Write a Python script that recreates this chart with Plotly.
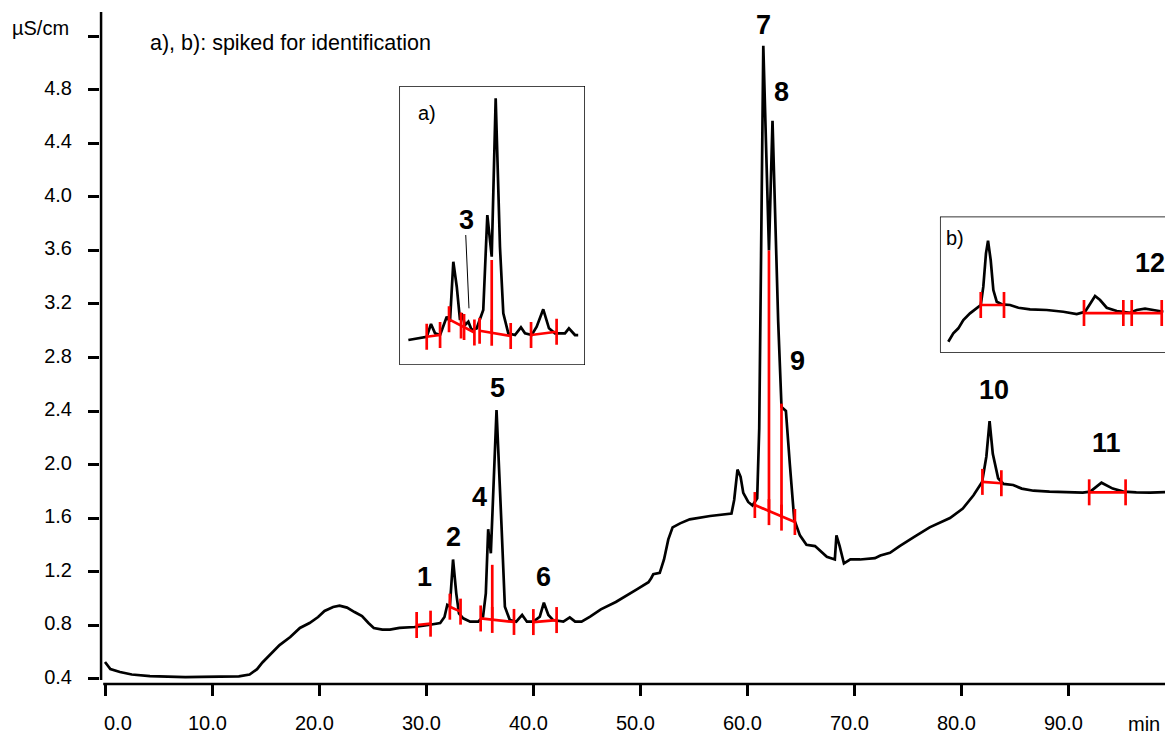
import plotly.graph_objects as go

# ---------------- main chromatogram (time in min, conductivity in µS/cm) ----------------
main_time = [0.0, 0.5, 1.4, 2.5, 4.2, 6.0, 7.5, 9.0, 11.0, 12.5, 13.5, 14.2, 14.7, 15.4, 16.3,
             17.3, 18.2, 19.1, 19.9, 20.5, 21.3, 21.9, 22.6, 23.3, 24.0, 24.6, 25.1, 25.9, 26.6,
             27.5, 28.9, 30.2, 31.3, 31.7, 31.96, 32.2, 32.5, 32.8, 33.05, 33.45, 34.1, 34.85,
             35.3, 35.56, 35.78, 36.03, 36.56, 37.03, 37.34, 37.8, 38.4, 38.95, 39.4, 40.0, 40.6,
             40.98, 41.4, 41.85, 42.8, 43.4, 43.9, 44.5, 45.3, 46.3, 47.7, 49.7, 50.75, 51.0, 51.2,
             51.8, 52.2, 52.6, 53.0, 53.7, 54.6, 56.5, 58.5, 58.75, 59.06, 59.35, 59.6, 60.06,
             60.46, 60.9, 61.09, 61.47, 62.0, 62.33, 62.86, 63.17, 63.58, 63.95, 64.36, 64.89,
             65.5, 66.3, 67.4, 68.15, 68.3, 68.6, 69.0, 69.6, 70.5, 71.9, 72.4, 73.3, 74.2, 75.6,
             77.0, 78.9, 80.1, 81.1, 81.9, 82.3, 82.6, 82.9, 83.4, 83.9, 84.8, 85.6, 86.7, 88.2,
             89.8, 91.3, 92.0, 93.05, 94.1, 95.1, 96.3, 97.6, 99.0]
main_signal = [0.523, 0.47, 0.449, 0.43, 0.418, 0.412, 0.41, 0.412, 0.414, 0.416, 0.43, 0.47, 0.52,
               0.576, 0.65, 0.71, 0.778, 0.815, 0.86, 0.905, 0.935, 0.945, 0.93, 0.897, 0.867,
               0.815, 0.778, 0.765, 0.765, 0.778, 0.785, 0.80, 0.815, 0.86, 0.95, 0.937, 1.29,
               1.037, 0.887, 0.85, 0.825, 0.825, 0.862, 1.037, 1.516, 1.336, 2.407, 1.535, 0.937,
               0.837, 0.825, 0.875, 0.825, 0.825, 0.862, 0.967, 0.875, 0.837, 0.825, 0.857, 0.825,
               0.825, 0.862, 0.917, 0.972, 1.068, 1.12, 1.15, 1.18, 1.19, 1.29, 1.44, 1.53, 1.56,
               1.59, 1.615, 1.633, 1.735, 1.962, 1.908, 1.788, 1.72, 1.694, 1.748, 2.27, 5.13, 3.60,
               4.57, 3.07, 2.43, 2.40, 2.0, 1.588, 1.47, 1.40, 1.39, 1.31, 1.29, 1.47, 1.39, 1.26,
               1.29, 1.29, 1.30, 1.32, 1.34, 1.39, 1.46, 1.53, 1.60, 1.67, 1.77, 1.87, 2.06, 2.325,
               2.08, 1.897, 1.855, 1.847, 1.82, 1.804, 1.797, 1.792, 1.79, 1.797, 1.864, 1.82,
               1.797, 1.792, 1.79, 1.794]

# integration marks of the main trace
main_baselines = [  # (t_start, v_start, t_end, v_end)
    (29.1, 0.80, 30.4, 0.81),
    (32.2, 0.937, 33.2, 0.90),
    (35.08, 0.849, 38.19, 0.823),
    (40.0, 0.822, 42.17, 0.837),
    (60.68, 1.697, 64.42, 1.57),
    (81.93, 1.87, 83.7, 1.86),
    (91.9, 1.792, 95.3, 1.792),
]
main_ticks = [(29.1, 0.80), (30.4, 0.81), (32.2, 0.937), (33.2, 0.90), (35.08, 0.849),
              (36.16, 0.838), (38.19, 0.823), (40.0, 0.822), (42.17, 0.837), (60.68, 1.697),
              (62.0, 1.644), (63.17, 1.603), (64.42, 1.57), (81.93, 1.87), (83.7, 1.86),
              (91.9, 1.792), (95.3, 1.792)]
main_drops = [(36.16, 0.838, 1.25), (62.0, 1.644, 3.60), (63.17, 1.603, 2.455)]  # (t, base, top)

peak_labels = ["1", "2", "4", "5", "6", "7", "8", "9", "10", "11"]
peak_label_t = [29.88, 32.58, 34.94, 36.63, 40.92, 61.46, 63.18, 64.63, 83.03, 93.52]
peak_label_v = [1.161, 1.46, 1.759, 2.57, 1.161, 5.286, 4.785, 2.776, 2.557, 2.158]

# ---------------- inset a) ----------------
inset_a_time = [28.19, 29.15, 29.95, 30.36, 30.75, 31.23, 31.87, 32.18, 32.5, 32.83, 33.14, 33.3,
                33.62, 33.94, 34.26, 34.74, 35.06, 35.37, 35.76, 36.18, 36.56, 36.97, 37.29, 37.77,
                38.41, 38.98, 39.37, 40.01, 40.49, 41.12, 41.67, 42.24, 43.2, 43.58, 44.16, 44.47]
inset_a_signal = [0.75, 0.767, 0.783, 0.91, 0.817, 0.80, 0.983, 0.933, 1.533, 1.283, 0.95, 1.017,
                  0.90, 0.933, 0.85, 0.867, 0.95, 1.05, 2.0, 1.583, 3.167, 1.683, 1.017, 0.817,
                  0.80, 0.877, 0.817, 0.80, 0.883, 1.057, 0.867, 0.817, 0.817, 0.867, 0.80, 0.80]
inset_a_baselines = [(29.95, 0.783, 31.23, 0.80), (32.09, 0.957, 34.52, 0.825),
                     (35.02, 0.843, 38.0, 0.79), (39.95, 0.80, 42.4, 0.833)]
inset_a_ticks = [(29.95, 0.783), (31.23, 0.80), (32.09, 0.957), (33.24, 0.895), (33.53, 0.88),
                 (34.52, 0.825), (35.02, 0.843), (36.18, 0.822), (38.0, 0.79), (39.95, 0.80),
                 (42.4, 0.833)]
inset_a_drops = [(36.18, 0.822, 1.55)]

# ---------------- inset b) ----------------
inset_b_time = [78.72, 79.21, 79.70, 80.19, 80.84, 81.5, 81.89, 82.14, 82.4, 82.6, 82.86, 83.12,
                83.45, 83.94, 84.75, 85.56, 86.7, 88.33, 89.95, 91.26, 92.07, 92.56, 93.05, 93.54,
                94.19, 95.17, 96.47, 97.12, 97.93, 98.74, 99.72]
inset_b_signal = [1.503, 1.587, 1.637, 1.72, 1.787, 1.837, 1.87, 2.053, 2.387, 2.513, 2.32, 2.02,
                  1.903, 1.877, 1.87, 1.843, 1.827, 1.82, 1.803, 1.78, 1.803, 1.88, 1.96, 1.92,
                  1.843, 1.81, 1.793, 1.82, 1.833, 1.82, 1.803]
inset_b_baselines = [(81.89, 1.87, 84.16, 1.87), (91.97, 1.79, 99.56, 1.79)]
inset_b_ticks = [(81.89, 1.87), (84.16, 1.87), (91.97, 1.79), (95.81, 1.79), (96.63, 1.79),
                 (99.56, 1.79)]

x_tick_vals = [0, 10, 20, 30, 40, 50, 60, 70, 80, 90]
x_tick_text = ["0.0", "10.0", "20.0", "30.0", "40.0", "50.0", "60.0", "70.0", "80.0", "90.0"]
y_tick_vals = [0.4, 0.8, 1.2, 1.6, 2.0, 2.4, 2.8, 3.2, 3.6, 4.0, 4.4, 4.8, 5.2]
y_tick_text = ["0.4", "0.8", "1.2", "1.6", "2.0", "2.4", "2.8", "3.2", "3.6", "4.0", "4.4", "4.8", ""]

FONT = "Liberation Sans, Arial, Helvetica, sans-serif"
RED = "#ff0000"
fig = go.Figure()

fig.add_trace(go.Scatter(x=main_time, y=main_signal, mode="lines",
                         line=dict(color="black", width=2.7), xaxis="x", yaxis="y",
                         hoverinfo="skip", showlegend=False))
fig.add_trace(go.Scatter(x=inset_a_time, y=inset_a_signal, mode="lines",
                         line=dict(color="black", width=2.7), xaxis="x2", yaxis="y2",
                         hoverinfo="skip", showlegend=False))
fig.add_trace(go.Scatter(x=inset_b_time, y=inset_b_signal, mode="lines",
                         line=dict(color="black", width=2.7), xaxis="x3", yaxis="y3",
                         hoverinfo="skip", showlegend=False))

shapes = []
# inset boxes
shapes.append(dict(type="rect", xref="x2 domain", yref="y2 domain", x0=0, x1=1, y0=0, y1=1,
                   line=dict(color="black", width=1.5), fillcolor="rgba(0,0,0,0)", layer="below"))
shapes.append(dict(type="rect", xref="x3 domain", yref="y3 domain", x0=0, x1=1.1, y0=0, y1=1,
                   line=dict(color="black", width=1.5), fillcolor="rgba(0,0,0,0)", layer="below"))
# axis lines
shapes.append(dict(type="line", xref="paper", yref="paper", x0=0.001, x1=0.001, y0=0.006, y1=1,
                   line=dict(color="black", width=2.5)))
shapes.append(dict(type="line", xref="paper", yref="paper", x0=0.003, x1=1, y0=0, y1=0,
                   line=dict(color="black", width=2.5)))


def add_marks(xr, yr, baselines, ticks, drops):
    for (a, va, b, vb) in baselines:
        shapes.append(dict(type="line", xref=xr, yref=yr, x0=a, x1=b, y0=va, y1=vb,
                           line=dict(color=RED, width=2.7)))
    for (t, v) in ticks:
        shapes.append(dict(type="line", xref=xr, yref=yr, x0=t, x1=t, ysizemode="pixel",
                           yanchor=v, y0=-13, y1=13, line=dict(color=RED, width=2.7)))
    for (t, base, top) in drops:
        shapes.append(dict(type="line", xref=xr, yref=yr, x0=t, x1=t, y0=base, y1=top,
                           line=dict(color=RED, width=2.7)))


add_marks("x", "y", main_baselines, main_ticks, main_drops)
add_marks("x2", "y2", inset_a_baselines, inset_a_ticks, inset_a_drops)
add_marks("x3", "y3", inset_b_baselines, inset_b_ticks, [])

# leader line for peak 3 in inset a
shapes.append(dict(type="line", xref="x2", yref="y2", x0=33.69, x1=34.0, y0=1.8, y1=1.067,
                   line=dict(color="black", width=1)))

annotations = []
for txt, t, v in zip(peak_labels, peak_label_t, peak_label_v):
    annotations.append(dict(x=t, y=v, xref="x", yref="y", text="<b>%s</b>" % txt,
                            showarrow=False, font=dict(family=FONT, size=27, color="black"),
                            xanchor="center", yanchor="middle"))
annotations.append(dict(x=33.78, y=1.95, xref="x2", yref="y2", text="<b>3</b>", showarrow=False,
                        font=dict(family=FONT, size=27, color="black"), xanchor="center",
                        yanchor="middle"))
annotations.append(dict(x=98.42, y=2.287, xref="x3", yref="y3", text="<b>12</b>", showarrow=False,
                        font=dict(family=FONT, size=27, color="black"), xanchor="center",
                        yanchor="middle"))
annotations.append(dict(x=29.95, y=3.017, xref="x2", yref="y2", text="a)", showarrow=False,
                        font=dict(family=FONT, size=20, color="black"), xanchor="center",
                        yanchor="middle"))
annotations.append(dict(x=79.38, y=2.537, xref="x3", yref="y3", text="b)", showarrow=False,
                        font=dict(family=FONT, size=20, color="black"), xanchor="center",
                        yanchor="middle"))
annotations.append(dict(x=0.0451, y=0.9539, xref="paper", yref="paper",
                        text="a), b): spiked for identification", showarrow=False,
                        font=dict(family=FONT, size=21.5, color="black"), xanchor="left",
                        yanchor="middle"))
annotations.append(dict(x=-0.0845, y=0.976, xref="paper", yref="paper", text="µS/cm",
                        showarrow=False, font=dict(family=FONT, size=20, color="black"),
                        xanchor="left", yanchor="middle"))
annotations.append(dict(x=0.997, y=-53 / 672, xref="paper", yref="paper", text="min",
                        showarrow=False, font=dict(family=FONT, size=20, color="black"),
                        xanchor="right", yanchor="bottom"))
for i, (tv, tt) in enumerate(zip(x_tick_vals, x_tick_text)):
    annotations.append(dict(x=tv, y=-0.058, xref="x", yref="paper", text=tt, showarrow=False,
                            xshift=13 if i == 0 else -5,
                            font=dict(family=FONT, size=20, color="black"),
                            xanchor="center", yanchor="middle"))

fig.update_layout(
    width=1165, height=737,
    margin=dict(l=100, r=0, t=12, b=53),
    paper_bgcolor="white", plot_bgcolor="white",
    showlegend=False,
    font=dict(family=FONT, size=20, color="black"),
    xaxis=dict(range=[-0.467, 98.98], domain=[0, 1], tickvals=x_tick_vals, showticklabels=False,
               ticks="outside", ticklen=11, tickwidth=2.5, tickcolor="black",
               showgrid=False, zeroline=False, showline=False, fixedrange=True),
    yaxis=dict(range=[0.359, 5.383], domain=[0, 1], tickvals=y_tick_vals, ticktext=y_tick_text,
               ticks="outside", ticklen=11, tickwidth=2.5, tickcolor="black",
               ticklabelstandoff=12, ticklabelshift=-2,
               tickfont=dict(family=FONT, size=20, color="black"),
               showgrid=False, zeroline=False, showline=False, fixedrange=True),
    xaxis2=dict(range=[27.39, 45.05], domain=[0.2817, 0.4547], anchor="y2", visible=False,
                fixedrange=True),
    yaxis2=dict(range=[0.507, 3.283], domain=[0.4757, 0.8888], anchor="x2", visible=False,
                fixedrange=True),
    xaxis3=dict(range=[77.98, 99.88], domain=[0.7894, 1.0], anchor="y3", visible=False,
                fixedrange=True),
    yaxis3=dict(range=[1.4, 2.747], domain=[0.494, 0.6945], anchor="x3", visible=False,
                fixedrange=True),
    shapes=shapes,
    annotations=annotations,
)

fig.write_html(
    "out.html",
    config={"displayModeBar": False},
    post_script="document.body.style.margin='0';document.body.style.overflow='hidden';",
)
